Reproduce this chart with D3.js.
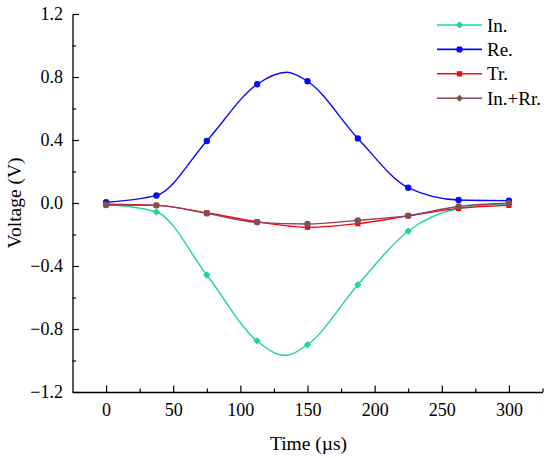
<!DOCTYPE html>
<html>
<head>
<meta charset="utf-8">
<script src="https://cdn.jsdelivr.net/npm/d3@7"></script>
<style>
  html, body { margin: 0; padding: 0; background: #fff; }
  #chart { width: 550px; height: 458px; }
  text { font-family: "Liberation Serif", "Times New Roman", serif; fill: #000; }
</style>
</head>
<body>
<div id="chart"></div>
<script>
// Voltage vs time for the four signals
const TIME    = [0, 37.5, 75, 112.5, 150, 187.5, 225, 262.5, 300];
const IN_V    = [-0.008, -0.057, -0.457, -0.876, -0.900, -0.519, -0.178, -0.035, -0.005];
const RE_V    = [0.005, 0.048, 0.394, 0.754, 0.773, 0.410, 0.097, 0.019, 0.015];
const TR_V    = [-0.008, -0.015, -0.062, -0.119, -0.154, -0.131, -0.082, -0.034, -0.015];
const INRR_V  = [-0.013, -0.015, -0.066, -0.123, -0.133, -0.110, -0.080, -0.022, -0.002];
// turning points of the smooth traces between markers
const IN_EXT  = { t: 132.8, v: -0.967 };
const RE_EXT  = { t: 134.6, v: 0.830 };

const X_TICKS = [0, 50, 100, 150, 200, 250, 300];
const X_MINOR = [25, 75, 125, 175, 225, 275, 325];
const Y_TICKS = [-1.2, -0.8, -0.4, 0.0, 0.4, 0.8, 1.2];
const Y_MINOR = [-1.0, -0.6, -0.2, 0.2, 0.6, 1.0];

const SERIES = [
  { name: "In.",    vals: IN_V,   ext: IN_EXT, color: "#22d596", line: "#22d596", sym: "diamond" },
  { name: "Re.",    vals: RE_V,   ext: RE_EXT, color: "#0a0af5", line: "#0a0af5", sym: "circle" },
  { name: "Tr.",    vals: TR_V,   ext: null,   color: "#f50a0a", line: "#f50a0a", sym: "square" },
  { name: "In.+Rr.",vals: INRR_V, ext: null,   color: "#7e5050", line: "#983a68", sym: "circle" },
];

const totalW = 550, totalH = 458;
const svg = d3.select("#chart").append("svg")
  .attr("width", totalW).attr("height", totalH);

/* ── Scales ── */
const x = d3.scaleLinear().domain([-25, 325]).range([72.5, 542.5]);
const y = d3.scaleLinear().domain([-1.2, 1.2]).range([392, 14]);

const fmtY = d => (d < 0 ? "\u2212" : "") + Math.abs(d).toFixed(1);

/* ── Minor ticks ── */
svg.append("g").attr("transform", "translate(0,392)")
  .call(d3.axisBottom(x).tickValues(X_MINOR).tickSize(-3.5).tickFormat(""))
  .call(ax => ax.select(".domain").remove())
  .selectAll("line").attr("stroke", "#000").attr("stroke-width", 1.2);
svg.append("g").attr("transform", "translate(72.5,0)")
  .call(d3.axisLeft(y).tickValues(Y_MINOR).tickSize(-3.5).tickFormat(""))
  .call(ax => ax.select(".domain").remove())
  .selectAll("line").attr("stroke", "#000").attr("stroke-width", 1.2);

/* ── Axes ── */
const xAx = svg.append("g").attr("transform", "translate(0,392)")
  .call(d3.axisBottom(x).tickValues(X_TICKS).tickSizeInner(-6.5).tickSizeOuter(0).tickPadding(11).tickFormat(d3.format("d")));
xAx.attr("font-family", null);
xAx.select(".domain").attr("stroke", "#000").attr("stroke-width", 1.3);
xAx.selectAll("line").attr("stroke", "#000").attr("stroke-width", 1.2);
xAx.selectAll("text").attr("font-size", 18);

const yAx = svg.append("g").attr("transform", "translate(72.5,0)")
  .call(d3.axisLeft(y).tickValues(Y_TICKS).tickSizeInner(-6.5).tickSizeOuter(0).tickPadding(9.5).tickFormat(fmtY));
yAx.attr("font-family", null);
yAx.select(".domain").attr("stroke", "#000").attr("stroke-width", 1.3);
yAx.selectAll("line").attr("stroke", "#000").attr("stroke-width", 1.2);
yAx.selectAll("text").attr("font-size", 18);

/* ── Axis labels ── */
svg.append("text").attr("x", 308.5).attr("y", 449.5)
  .attr("text-anchor", "middle").attr("font-size", 19.5)
  .text("Time (\u00b5s)");
svg.append("text").attr("transform", "translate(21,203) rotate(-90)")
  .attr("text-anchor", "middle").attr("font-size", 19.5)
  .text("Voltage (V)");

/* ── Curves and markers ── */
const symOf = { diamond: d3.symbolDiamond2, circle: d3.symbolCircle, square: d3.symbolSquare };
const sizeOf = { diamond: 34, circle: 32, square: 28 };
const line = d3.line().x(d => x(d.t)).y(d => y(d.v)).curve(d3.curveMonotoneX);

SERIES.forEach(s => {
  const pts = TIME.map((t, i) => ({ t, v: s.vals[i] }));
  const linePts = s.ext ? pts.concat([s.ext]).sort((a, b) => a.t - b.t) : pts;

  svg.append("path").datum(linePts)
    .attr("d", line)
    .attr("fill", "none")
    .attr("stroke", s.line)
    .attr("stroke-width", 1.4);

  svg.append("g").selectAll("path")
    .data(pts)
    .join("path")
    .attr("transform", d => `translate(${x(d.t)},${y(d.v)})`)
    .attr("d", d3.symbol(symOf[s.sym], sizeOf[s.sym]))
    .attr("fill", s.color);
});

/* ── Legend ── */
const legend = svg.append("g");
SERIES.forEach((s, i) => {
  const cy = 25 + i * 24.4;
  legend.append("line")
    .attr("x1", 437).attr("x2", 482).attr("y1", cy).attr("y2", cy)
    .attr("stroke", s.color).attr("stroke-width", 1.6);
  legend.append("path")
    .attr("transform", `translate(459.5,${cy})`)
    .attr("d", d3.symbol(s.name === "In.+Rr." ? d3.symbolDiamond2 : symOf[s.sym], sizeOf[s.sym]))
    .attr("fill", s.color);
  legend.append("text")
    .attr("x", 487).attr("y", cy + 6.5)
    .attr("font-size", 19)
    .text(s.name);
});
</script>
</body>
</html>
